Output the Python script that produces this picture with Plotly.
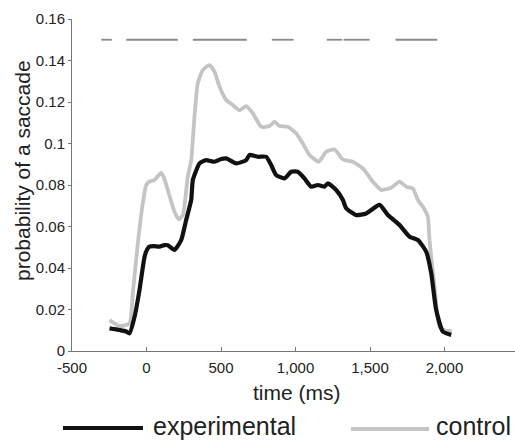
import plotly.graph_objects as go

# ---- data ----
exp_t = [-248, -181, -140, -114, -80, -47, -13, 5, 20, 50, 87, 120, 143, 188, 233, 266, 300, 311,
         356, 400, 456, 500, 535, 602, 669, 691, 747, 803, 837, 870, 926, 971, 1015, 1060, 1105,
         1150, 1195, 1217, 1273, 1318, 1340, 1407, 1474, 1564, 1620, 1698, 1765, 1821, 1877, 1911,
         1944, 1989, 2045]
exp_p = [0.0109, 0.0101, 0.0095, 0.0085, 0.0165, 0.0294, 0.0454, 0.049, 0.0503, 0.0505, 0.0503,
         0.051, 0.051, 0.0487, 0.0535, 0.0631, 0.0728, 0.0824, 0.0904, 0.092, 0.0912, 0.0925,
         0.0928, 0.0904, 0.092, 0.0945, 0.0936, 0.0936, 0.0896, 0.0848, 0.0832, 0.0864, 0.0864,
         0.0832, 0.0792, 0.080, 0.0792, 0.0808, 0.0776, 0.0728, 0.0688, 0.0655, 0.0663, 0.0704,
         0.0655, 0.0607, 0.0551, 0.0535, 0.0479, 0.0374, 0.0198, 0.0093, 0.0077]

ctl_t = [-248, -181, -114, -92, -58, -25, -2, 20, 54, 99, 120, 143, 188, 217, 244, 277, 300, 322,
         344, 378, 423, 456, 490, 535, 579, 624, 669, 714, 770, 826, 859, 893, 948, 1004, 1049,
         1094, 1156, 1206, 1262, 1318, 1385, 1452, 1519, 1575, 1642, 1698, 1743, 1787, 1821, 1855,
         1888, 1899, 1933, 1966, 2000, 2050]
ctl_p = [0.0149, 0.012, 0.0133, 0.0278, 0.052, 0.0712, 0.080, 0.0816, 0.0824, 0.0859, 0.083,
         0.0776, 0.067, 0.0635, 0.0655, 0.084, 0.092, 0.113, 0.129, 0.1354, 0.1378, 0.1346, 0.1274,
         0.121, 0.1186, 0.116, 0.118, 0.1145, 0.108, 0.1084, 0.1105, 0.1084, 0.1081, 0.1049, 0.100,
         0.0945, 0.0912, 0.096, 0.0971, 0.0923, 0.0912, 0.088, 0.0816, 0.0776, 0.0787, 0.0816,
         0.0792, 0.0784, 0.0728, 0.0695, 0.0647, 0.0535, 0.031, 0.0117, 0.0100, 0.0095]

sig_start = [-304, -136, 311, 841, 1210, 1322, 1671]
sig_end = [-233, 210, 673, 987, 1313, 1497, 1951]
sig_level = 0.15

y_ticks = [0, 0.02, 0.04, 0.06, 0.08, 0.1, 0.12, 0.14, 0.16]
y_labels = ["0", "0.02", "0.04", "0.06", "0.08", "0.1", "0.12", "0.14", "0.16"]
x_ticks = [-500, 0, 500, 1000, 1500, 2000]
x_labels = ["-500", "0", "500", "1,000", "1,500", "2,000"]

# ---- figure ----
FONT = "Liberation Sans, Arial, sans-serif"
fig = go.Figure()

sx, sy = [], []
for a, b in zip(sig_start, sig_end):
    sx += [a, b, None]
    sy += [sig_level, sig_level, None]
fig.add_trace(go.Scatter(x=sx, y=sy, mode="lines", line=dict(color="#8a8a8a", width=1.8),
                         showlegend=False, hoverinfo="skip"))

fig.add_trace(go.Scatter(x=ctl_t, y=ctl_p, mode="lines", name="control",
                         line=dict(color="#c4c4c4", width=3.8, shape="spline", smoothing=0.5),
                         showlegend=False))
fig.add_trace(go.Scatter(x=exp_t, y=exp_p, mode="lines", name="experimental",
                         line=dict(color="#111111", width=4.2, shape="spline", smoothing=0.5),
                         showlegend=False))

fig.update_layout(
    width=515, height=441,
    margin=dict(l=72, r=0, t=19, b=90),
    paper_bgcolor="white", plot_bgcolor="white",
    font=dict(family=FONT, size=15, color="#222222"),
    xaxis=dict(range=[-500, 2473], tickvals=x_ticks, ticktext=x_labels, automargin=False,
               showgrid=False, zeroline=False, showline=True, linecolor="#777777", linewidth=1,
               ticks="inside", ticklen=4, tickcolor="#777777", ticklabelstandoff=3,
               tickfont=dict(family=FONT, size=15, color="#222222")),
    yaxis=dict(range=[0, 0.16], tickvals=y_ticks, ticktext=y_labels, automargin=False,
               showgrid=False, zeroline=False, showline=True, linecolor="#777777", linewidth=1,
               ticks="outside", ticklen=3, tickcolor="#777777",
               tickfont=dict(family=FONT, size=15, color="#222222")),
)

W, H = 443.0, 332.0
def px_x(p):
    return (p - 72) / W
def px_y(p):
    return (351 - p) / H

fig.add_annotation(text="probability of a saccade", textangle=-90, xref="paper", yref="paper",
                   x=px_x(22), y=px_y(171), xanchor="center", yanchor="middle", showarrow=False,
                   font=dict(family=FONT, size=21, color="#222222"))
fig.add_annotation(text="time (ms)", xref="paper", yref="paper",
                   x=px_x(297), y=px_y(392), xanchor="center", yanchor="middle", showarrow=False,
                   font=dict(family=FONT, size=21, color="#222222"))

# legend (drawn manually below the axes)
fig.add_shape(type="line", xref="paper", yref="paper", x0=px_x(63), x1=px_x(143),
              y0=px_y(428), y1=px_y(428), line=dict(color="#111111", width=4))
fig.add_annotation(text="experimental", xref="paper", yref="paper", x=px_x(151), y=px_y(426),
                   xanchor="left", yanchor="middle", showarrow=False,
                   font=dict(family=FONT, size=25, color="#222222"))
fig.add_shape(type="line", xref="paper", yref="paper", x0=px_x(351), x1=px_x(429),
              y0=px_y(429), y1=px_y(429), line=dict(color="#c4c4c4", width=4))
fig.add_annotation(text="control", xref="paper", yref="paper", x=px_x(434), y=px_y(426),
                   xanchor="left", yanchor="middle", showarrow=False,
                   font=dict(family=FONT, size=25, color="#222222"))

fig.write_html("out.html", config={"displayModeBar": False},
               post_script="document.body.style.margin='0';document.body.style.padding='0';")
